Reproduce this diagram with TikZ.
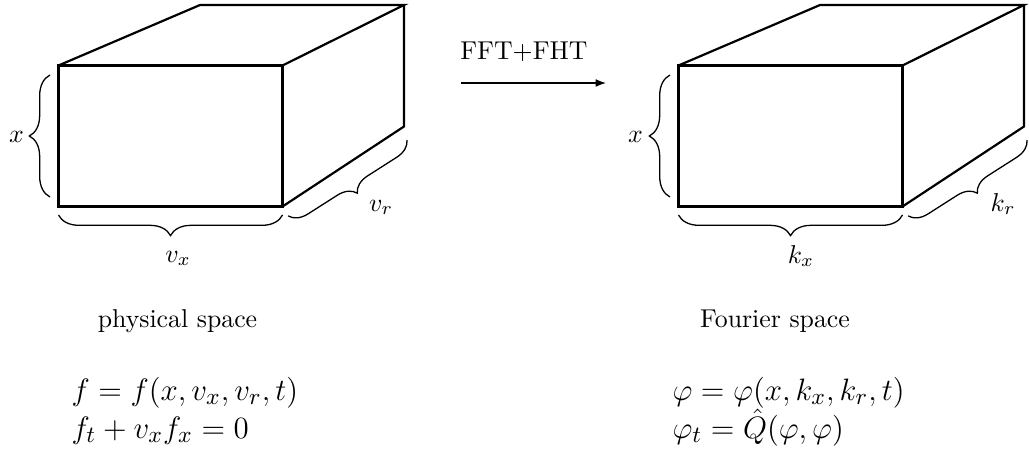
\documentclass[tikz,border=0pt]{standalone}
\usetikzlibrary{decorations.pathreplacing,arrows.meta}
\begin{document}
\begin{tikzpicture}[x=0.3876pt, y={(0pt,-0.3876pt)},
  edge/.style={line width=0.85pt, line join=miter},
  bracestyle/.style={line width=0.5pt, decorate, decoration={brace, amplitude=8pt}},
  lbl/.style={inner sep=0pt, font=\fontsize{10}{12}\selectfont},
  eqn/.style={inner sep=0pt, anchor=base west, font=\fontsize{12.4}{14}\selectfont},
  arr/.style={line width=0.45pt, -{Latex[length=4pt,width=3pt]}}]
\useasboundingbox (0,0) rectangle (1029,452);
% ---------- left cube ----------
\coordinate (LA) at (58.5,65.5);
\coordinate (LB) at (282.5,65.5);
\coordinate (LC) at (282.5,206.5);
\coordinate (LD) at (58.5,206.5);
\coordinate (LE) at (200,5);
\coordinate (LF) at (404,5);
\coordinate (LG) at (404,126.5);
\draw[edge] (LA) -- (LB) -- (LC) -- (LD) -- cycle;
\draw[edge] (LA) -- (LE) -- (LF) -- (LB);
\draw[edge] (LF) -- (LG) -- (LC);
% braces left
\coordinate (Lxa) at (50,197);
\coordinate (Lxb) at (50,75);
\draw[bracestyle] (Lxa) -- (Lxb);
\coordinate (Lva) at (282.5,215);
\coordinate (Lvb) at (58.5,215);
\draw[bracestyle] (Lva) -- (Lvb);
\coordinate (Lra) at (407,140);
\coordinate (Lrb) at (288,216);
\draw[bracestyle, decoration={amplitude=7pt}] (Lra) -- (Lrb);
\node[lbl] (Lx) at (16.5,137) {$x$};
\node[lbl, anchor=base] (Lvx) at (178,262) {$v_x$};
\node[lbl, anchor=base] (Lvr) at (381,211) {$v_r$};
% ---------- right cube ----------
\coordinate (RA) at (678.5,65.5);
\coordinate (RB) at (902.5,65.5);
\coordinate (RC) at (902.5,206.5);
\coordinate (RD) at (678.5,206.5);
\coordinate (RE) at (820,5);
\coordinate (RF) at (1024,5);
\coordinate (RG) at (1024,126.5);
\draw[edge] (RA) -- (RB) -- (RC) -- (RD) -- cycle;
\draw[edge] (RA) -- (RE) -- (RF) -- (RB);
\draw[edge] (RF) -- (RG) -- (RC);
\coordinate (Rxa) at (670,197);
\coordinate (Rxb) at (670,75);
\draw[bracestyle] (Rxa) -- (Rxb);
\coordinate (Rva) at (902.5,215);
\coordinate (Rvb) at (678.5,215);
\draw[bracestyle] (Rva) -- (Rvb);
\coordinate (Rra) at (1027,140);
\coordinate (Rrb) at (908,216);
\draw[bracestyle, decoration={amplitude=7pt}] (Rra) -- (Rrb);
\node[lbl] (Rx) at (635.5,137) {$x$};
\node[lbl, anchor=base] (Rkx) at (801,263) {$k_x$};
\node[lbl, anchor=base] (Rkr) at (1003,211) {$k_r$};
% ---------- transform arrow ----------
\coordinate (arrS) at (461,83);
\coordinate (arrE) at (606,83);
\draw[arr] (arrS) -- (arrE);
\node[lbl, anchor=base] (fft) at (524,60) {FFT+FHT};
% ---------- captions ----------
\node[lbl, anchor=base] (phys) at (177.5,327.5) {physical space};
\node[lbl, anchor=base] (four) at (775,327.5) {Fourier space};
% ---------- equations ----------
\node[eqn] (eqL1) at (71,400) {$f=f(x,v_x,v_r,t)$};
\node[eqn] (eqL2) at (71,438) {$f_t+v_xf_x=0$};
\node[eqn] (eqR1) at (672,400) {$\varphi=\varphi(x,k_x,k_r,t)$};
\node[eqn] (eqR2) at (672,438) {$\varphi_t=\hat{Q}(\varphi,\varphi)$};
\end{tikzpicture}
\end{document}
